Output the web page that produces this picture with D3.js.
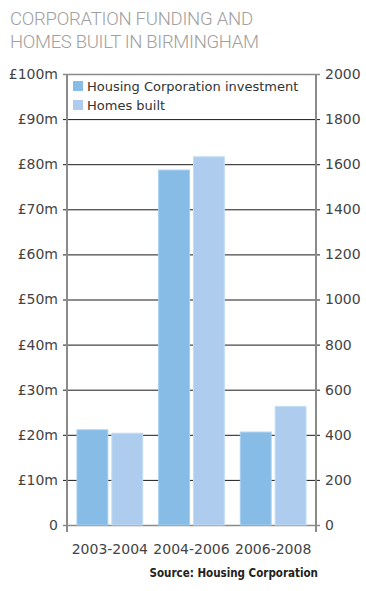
<!DOCTYPE html>
<html><head><meta charset="utf-8">
<script src="https://cdn.jsdelivr.net/npm/d3@7"></script>
<style>body{margin:0;background:#fff;} svg{display:block;font-family:"DejaVu Sans",sans-serif;}</style>
</head><body><svg id="c" width="366" height="591"></svg>
<script>
const categories = ["2003-2004","2004-2006","2006-2008"];
const investment = [21.1, 78.7, 20.6];
const homesBuilt = [407, 1633, 526];
const leftTicks = [0,10,20,30,40,50,60,70,80,90,100];
const rightTicks = [0,200,400,600,800,1000,1200,1400,1600,1800,2000];
const seriesNames = ["Housing Corporation investment","Homes built"];
const colors = ["#86bce6","#aecdee"];

const svg = d3.select("#c");
const L=67, R=316, T=74, B=525;
const yL = d3.scaleLinear().domain([0,100]).range([B,T]);
const yR = d3.scaleLinear().domain([0,2000]).range([B,T]);
const x = d3.scaleBand().domain(categories).range([L,R]).paddingInner(0.195).paddingOuter(0.122);
const xs = d3.scaleBand().domain([0,1]).range([0,x.bandwidth()]).paddingInner(0.114).paddingOuter(0);

const tf = "Roboto, 'Open Sans', sans-serif";
svg.append("text").attr("x",10).attr("y",25).attr("font-size",18.5).attr("font-weight",300)
  .attr("fill","#a0a0a0").attr("font-family",tf).attr("textLength",243).text("CORPORATION FUNDING AND");
svg.append("text").attr("x",10).attr("y",48).attr("font-size",18.5).attr("font-weight",300)
  .attr("fill","#a0a0a0").attr("font-family",tf).attr("textLength",249).text("HOMES BUILT IN BIRMINGHAM");

// gridlines
svg.append("g").selectAll("line").data(leftTicks.filter(d=>d>0&&d<100)).join("line")
  .attr("x1",L-4).attr("x2",R+4).attr("y1",d=>yL(d)+0.5).attr("y2",d=>yL(d)+0.5)
  .attr("stroke","#1a1a1a").attr("stroke-width",1);
[100,0].forEach(v=>{
  svg.append("line").attr("x1",L-4).attr("x2",R+4).attr("y1",yL(v)+0.5).attr("y2",yL(v)+0.5)
    .attr("stroke","#8a8a8a").attr("stroke-width",1.5);
});

// bars
const g = svg.append("g");
categories.forEach((c,i)=>{
  [investment[i], homesBuilt[i]].forEach((v,j)=>{
    const yv = j===0 ? yL(v) : yR(v);
    g.append("rect").attr("x",x(c)+xs(j)).attr("width",xs.bandwidth())
      .attr("y",yv).attr("height",B-yv)
      .attr("fill",colors[j]).attr("stroke",j===0?"#a6d0f0":"#c4ddf5").attr("stroke-width",1);
  });
});

// axes lines
svg.append("line").attr("x1",L).attr("x2",L).attr("y1",T).attr("y2",B+7).attr("stroke","#8a8a8a").attr("stroke-width",2);
svg.append("line").attr("x1",R).attr("x2",R).attr("y1",T).attr("y2",B+7).attr("stroke","#8a8a8a").attr("stroke-width",2);

// tick labels
const lAxis = d3.axisLeft(yL).tickValues(leftTicks).tickSize(0).tickPadding(8).tickFormat(d=>d===0?"0":"£"+d+"m");
const la = svg.append("g").attr("transform",`translate(${L-1},0)`).call(lAxis);
la.select(".domain").remove();
la.selectAll("text").attr("font-size",14).attr("fill","#444").attr("font-family","'DejaVu Sans',sans-serif");
const rAxis = d3.axisRight(yR).tickValues(rightTicks).tickSize(0).tickPadding(8).tickFormat(d=>String(d));
const ra = svg.append("g").attr("transform",`translate(${R+1},0)`).call(rAxis);
ra.select(".domain").remove();
ra.selectAll("text").attr("font-size",14).attr("fill","#444").attr("font-family","'DejaVu Sans',sans-serif");
const bAxis = d3.axisBottom(x).tickSize(0).tickPadding(19);
const ba = svg.append("g").attr("transform",`translate(0,${B})`).call(bAxis);
ba.select(".domain").remove();
ba.selectAll("text").attr("font-size",14).attr("fill","#444").attr("font-family","'DejaVu Sans',sans-serif");

// legend
const lg = svg.append("g").attr("transform",`translate(73,80)`);
seriesNames.forEach((n,i)=>{
  lg.append("rect").attr("x",0).attr("y",i*19+1).attr("width",10).attr("height",10).attr("fill",colors[i]);
  lg.append("text").attr("x",14).attr("y",i*19+11).attr("font-size",13).attr("fill","#333")
    .attr("font-family","'DejaVu Sans',sans-serif").text(n);
});

svg.append("text").attr("x",318).attr("y",577).attr("text-anchor","end").attr("font-size",11.5)
  .attr("font-weight","bold").attr("fill","#222").attr("font-family","'DejaVu Sans Condensed','DejaVu Sans',sans-serif")
  .text("Source: Housing Corporation");
</script></body></html>
